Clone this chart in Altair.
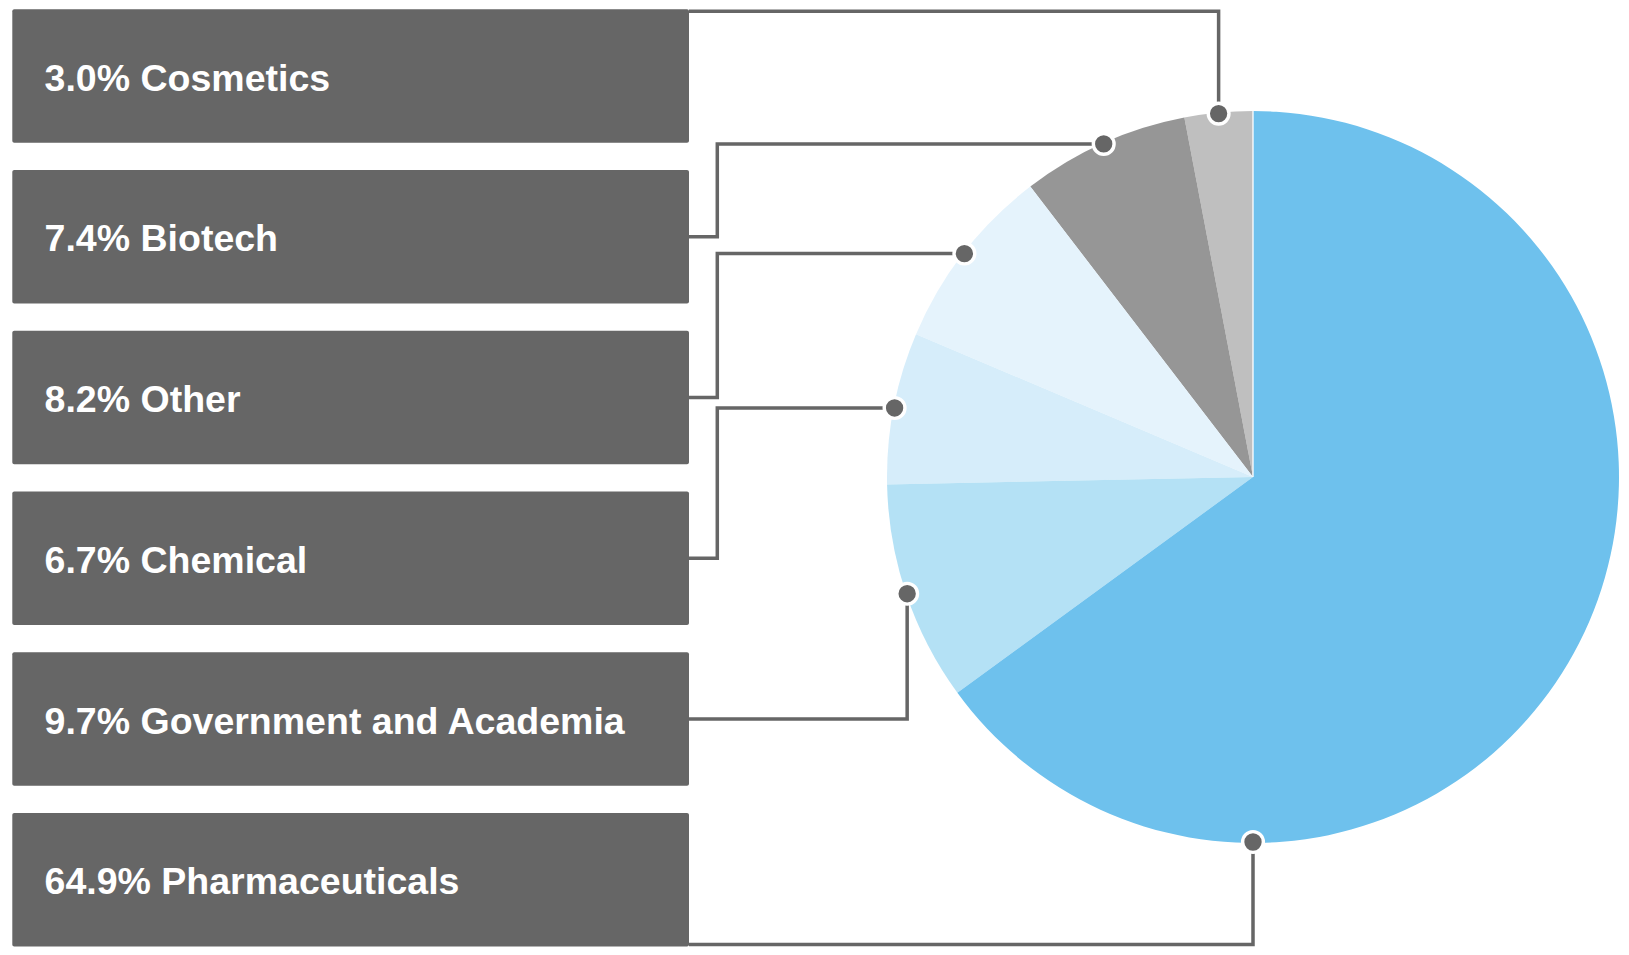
import math
import altair as alt
import pandas as pd

# ---- data (box order, top to bottom) ----
categories = ["Cosmetics", "Biotech", "Other", "Chemical",
              "Government and Academia", "Pharmaceuticals"]
shares = [3.0, 7.4, 8.2, 6.7, 9.7, 64.9]
slice_colors = ["#BFBFBF", "#969696", "#E5F3FC", "#D6EDFA", "#B4E1F5", "#6EC1ED"]
routes = ["top", "elbow", "elbow", "elbow", "direct", "bottom"]

# ---- layout (page pixel units) ----
W, H = 1613, 939
X0, Y0 = 8, 8
BOX_LEFT, BOX_RIGHT = 12.3, 689.0
BOX_TOP0, BOX_STEP, BOX_H = 9.3, 160.75, 133.4
CX, CY, R = 1253.0, 477.0, 366
DOT_R = 365.0
ELBOW_X = 717.3
TEXT_X = 44.6
TEXT_DY = 14.5
LINE_INSET = 2.0

n = len(categories)
total = sum(shares)

# pie: clockwise from 12 o'clock, bottom box first
pie_order = [n - 1 - i for i in range(n)]
angles = {}
cum = 0.0
for i in sorted(range(n), key=lambda k: pie_order[k]):
    a0 = cum / total * 360.0
    cum += shares[i]
    a1 = cum / total * 360.0
    mid = 180.0 if a0 <= 180.0 <= a1 else (a0 + a1) / 2.0
    angles[i] = mid

box_rows, line_rows, dot_rows = [], [], []
for i, (cat, v) in enumerate(zip(categories, shares)):
    top = BOX_TOP0 + i * BOX_STEP
    bot = top + BOX_H
    mid_y = (top + bot) / 2.0
    box_rows.append(dict(category=cat, x=BOX_LEFT, x2=BOX_RIGHT, y=top, y2=bot,
                         tx=TEXT_X, ty=mid_y + TEXT_DY,
                         label=f"{v:.1f}% {cat}"))
    a = math.radians(angles[i])
    dx = CX + DOT_R * math.sin(a)
    dy = CY - DOT_R * math.cos(a)
    dot_rows.append(dict(category=cat, x=dx, y=dy))
    route = routes[i]
    if route == "top":
        ay = top + LINE_INSET
    elif route == "bottom":
        ay = bot - LINE_INSET
    else:
        ay = mid_y
    if route == "elbow":
        pts = [(BOX_RIGHT, ay), (ELBOW_X, ay), (ELBOW_X, dy), (dx, dy)]
    else:
        pts = [(BOX_RIGHT, ay), (dx, ay), (dx, dy)]
    for s, (px, py) in enumerate(pts):
        line_rows.append(dict(category=cat, seq=s, x=px, y=py))

boxes = pd.DataFrame(box_rows)
lines = pd.DataFrame(line_rows)
dots = pd.DataFrame(dot_rows)
pie = pd.DataFrame(dict(category=categories, share=shares, pie_order=pie_order,
                        x=[CX] * n, y=[CY] * n))
sep = pd.DataFrame(dict(x=[CX], y=[CY], y2=[CY - R]))

xs = alt.Scale(domain=[X0, X0 + W], nice=False, zero=False)
ys = alt.Scale(domain=[Y0, Y0 + H], nice=False, zero=False, reverse=True)

def X(f="x"):
    return alt.X(f"{f}:Q", scale=xs, axis=None)

def Y(f="y"):
    return alt.Y(f"{f}:Q", scale=ys, axis=None)

rects = alt.Chart(boxes).mark_rect(color="#666666", cornerRadius=2).encode(
    x=X(), x2="x2:Q", y=Y(), y2="y2:Q")

texts = alt.Chart(boxes).mark_text(
    align="left", baseline="alphabetic", font="Liberation Sans",
    fontWeight="bold", fontSize=37.5, color="#FFFFFF").encode(
    x=X("tx"), y=Y("ty"), text="label:N")

arcs = alt.Chart(pie).mark_arc(radius=R).encode(
    theta=alt.Theta("share:Q", stack=True),
    order=alt.Order("pie_order:Q"),
    color=alt.Color("category:N", scale=alt.Scale(domain=categories, range=slice_colors),
                    legend=None),
    x=X(), y=Y())

separator = alt.Chart(sep).mark_rule(color="#FFFFFF", strokeWidth=1.3).encode(
    x=X(), y=Y(), y2="y2:Q")

connectors = alt.Chart(lines).mark_line(
    color="#666666", strokeWidth=3.5, strokeJoin="miter", strokeCap="butt").encode(
    x=X(), y=Y(), detail="category:N", order="seq:Q")

markers = alt.Chart(dots).mark_point(
    shape="circle", filled=True, size=430, fill="#666666", stroke="#FFFFFF",
    strokeWidth=3.4, opacity=1, fillOpacity=1, strokeOpacity=1).encode(
    x=X(), y=Y())

chart = alt.layer(rects, texts, arcs, separator, connectors, markers).properties(
    width=W, height=H, padding=0, autosize=alt.AutoSizeParams(type="none")
).configure_view(stroke=None)

chart.save("out.html", embed_options={"renderer": "svg", "actions": False})
